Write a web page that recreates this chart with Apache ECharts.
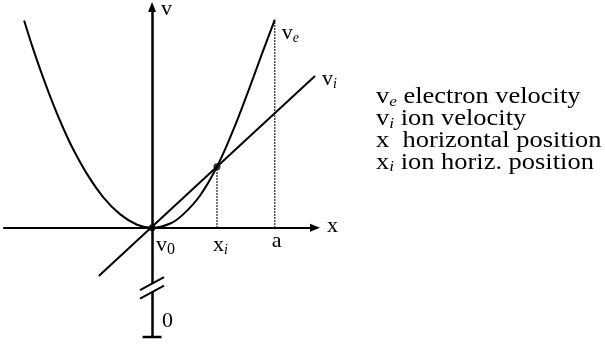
<!DOCTYPE html>
<html>
<head>
<meta charset="utf-8">
<script src="https://cdn.jsdelivr.net/npm/echarts@6/dist/echarts.min.js"></script>
<style>
  html, body { margin: 0; padding: 0; background: #fff; }
  #chart { width: 605px; height: 345px; }
</style>
</head>
<body>
<div id="chart"></div>
<script>
// electron velocity v_e(x)
const curveX = [-1.97, -1.83, -1.68, -1.52, -1.37, -1.22, -1.0, -0.75, -0.49, -0.23, 0, 0.28, 0.48, 0.74, 1.0, 1.25, 1.51, 1.71, 1.89];
const electronV = [3.40, 2.93, 2.47, 2.02, 1.64, 1.30, 0.88, 0.50, 0.22, 0.05, 0, 0.07, 0.22, 0.53, 1.0, 1.60, 2.32, 2.90, 3.41];

// ion velocity v_i(x), a straight line
const ionX = [-0.82, 2.51];
const ionV = [-0.79, 2.49];

// marked positions on the x axis
const xIon = 1.0;   // x_i, where the two curves cross
const vCross = 1.0;
const xA = 1.89;    // a
const vAtA = 3.41;

// axis ranges (v axis is broken below v0, bottom end is 0)
const xRange = [-2.28, 2.51];
const vRange = [-1.79, 3.62];
const vBreak = -0.98;

const legendSym = [["v", "e"], ["v", "i"], ["x", ""], ["x", "i"]];
const legendText = [" electron velocity", " ion velocity", "  horizontal position", " ion horiz. position"];

const SERIF = "'Liberation Serif', 'Times New Roman', serif";
const INK = "#000";

function richStyle(size, subSize, subItalic) {
  return {
    m: { fontFamily: SERIF, fontSize: size, lineHeight: size, color: INK },
    s: {
      fontFamily: SERIF, fontSize: subSize, lineHeight: subSize, color: INK,
      fontStyle: subItalic ? "italic" : "normal",
      padding: [10, 0, 0, 0]
    }
  };
}

function symText(main, sub, rest) {
  let t = "{m|" + main + "}";
  if (sub) t += "{s|" + sub + "}";
  if (rest) t += "{m|" + rest + "}";
  return t;
}

const chart = echarts.init(document.getElementById("chart"), null, { renderer: "canvas" });

const axisCommon = {
  type: "value",
  axisTick: { show: false },
  axisLabel: { show: false },
  splitLine: { show: false }
};

chart.setOption({
  animation: false,
  backgroundColor: "#fff",
  grid: { left: 4, right: 290, top: 7, bottom: 8 },
  xAxis: Object.assign({}, axisCommon, {
    min: xRange[0],
    max: xRange[1],
    axisLine: {
      onZero: true,
      symbol: ["none", "triangle"],
      symbolSize: [8, 10],
      lineStyle: { color: INK, width: 2 }
    }
  }),
  yAxis: Object.assign({}, axisCommon, {
    min: vRange[0],
    max: vRange[1],
    axisLine: {
      onZero: true,
      symbol: ["none", "triangle"],
      symbolSize: [8, 10],
      lineStyle: { color: INK, width: 2.5 }
    }
  }),
  series: [
    {
      type: "line",
      data: [[xIon, 0], [xIon, vCross]],
      showSymbol: false,
      lineStyle: { color: INK, width: 1.4, type: [1.5, 1.5] }
    },
    {
      type: "line",
      data: [[xA, 0], [xA, vAtA]],
      showSymbol: false,
      lineStyle: { color: INK, width: 1.4, type: [1.5, 1.5] }
    },
    {
      name: "v_e",
      type: "line",
      smooth: 0.4,
      data: curveX.map((x, i) => [x, electronV[i]]),
      showSymbol: false,
      lineStyle: { color: INK, width: 2 }
    },
    {
      name: "v_i",
      type: "line",
      data: ionX.map((x, i) => [x, ionV[i]]),
      showSymbol: false,
      lineStyle: { color: INK, width: 2 }
    },
    {
      type: "scatter",
      data: [[0, 0], [xIon, vCross]],
      symbolSize: 7,
      itemStyle: { color: INK },
      z: 5
    }
  ]
});

// decorations placed from the axes' own scale
const px = (x, v) => chart.convertToPixel({ gridIndex: 0 }, [x, v]);
const origin = px(0, 0);
const bottom = px(0, vRange[0]);
const brk = px(0, vBreak);

// baseline of a serif line sits about 0.3em below the middle
function label(text, anchor, dx, dyBase, size, scaleX) {
  size = size || 22;
  return {
    type: "text",
    x: anchor[0] + dx,
    y: anchor[1] + dyBase - 0.305 * size,
    scaleX: scaleX || 1,
    z: 10,
    style: {
      text: text,
      rich: richStyle(size, Math.round(size * 0.64), true),
      align: "left",
      verticalAlign: "middle",
      fill: INK
    }
  };
}

const graphics = [
  // gap in the v axis and the break mark
  { type: "rect", shape: { x: brk[0] - 4, y: brk[1] - 4, width: 8, height: 8.5 }, style: { fill: "#fff" }, z: 8 },
  { type: "line", shape: { x1: brk[0] - 12, y1: brk[1] + 2.5, x2: brk[0] + 12, y2: brk[1] - 10.5 }, style: { stroke: INK, lineWidth: 2 }, z: 9 },
  { type: "line", shape: { x1: brk[0] - 12, y1: brk[1] + 11, x2: brk[0] + 12, y2: brk[1] - 2 }, style: { stroke: INK, lineWidth: 2 }, z: 9 },
  // end cap at v = 0
  { type: "line", shape: { x1: bottom[0] - 9.5, y1: bottom[1], x2: bottom[0] + 9.5, y2: bottom[1] }, style: { stroke: INK, lineWidth: 2.5 }, z: 9 },

  label(symText("v"), px(0, vRange[1]), 9, 9),
  label(symText("x"), px(xRange[1], 0), 12, 5),
  label(symText("v", "e"), px(xA, vAtA), 7, 20),
  label(symText("v", "i"), px(ionX[1], ionV[1]), 7, 10),
  label(symText("x", "i"), px(xIon, 0), -4, 24),
  label(symText("a"), px(xA, 0), -3, 20),
  label(symText("0"), bottom, 10, -9)
];

// v0 has an upright subscript
const v0 = label(symText("v", "0"), origin, 4, 24);
v0.style.rich.s.fontStyle = "normal";
v0.style.rich.s.fontSize = 16;
v0.style.rich.s.lineHeight = 16;
graphics.push(v0);

// key on the right
const keyBase = [104, 126, 148, 169.5];
legendSym.forEach((s, i) => {
  graphics.push(label(symText(s[0], s[1], legendText[i]), [376, keyBase[i]], 0, 0, 23, 1.15));
});

chart.setOption({ graphic: graphics });
</script>
</body>
</html>
